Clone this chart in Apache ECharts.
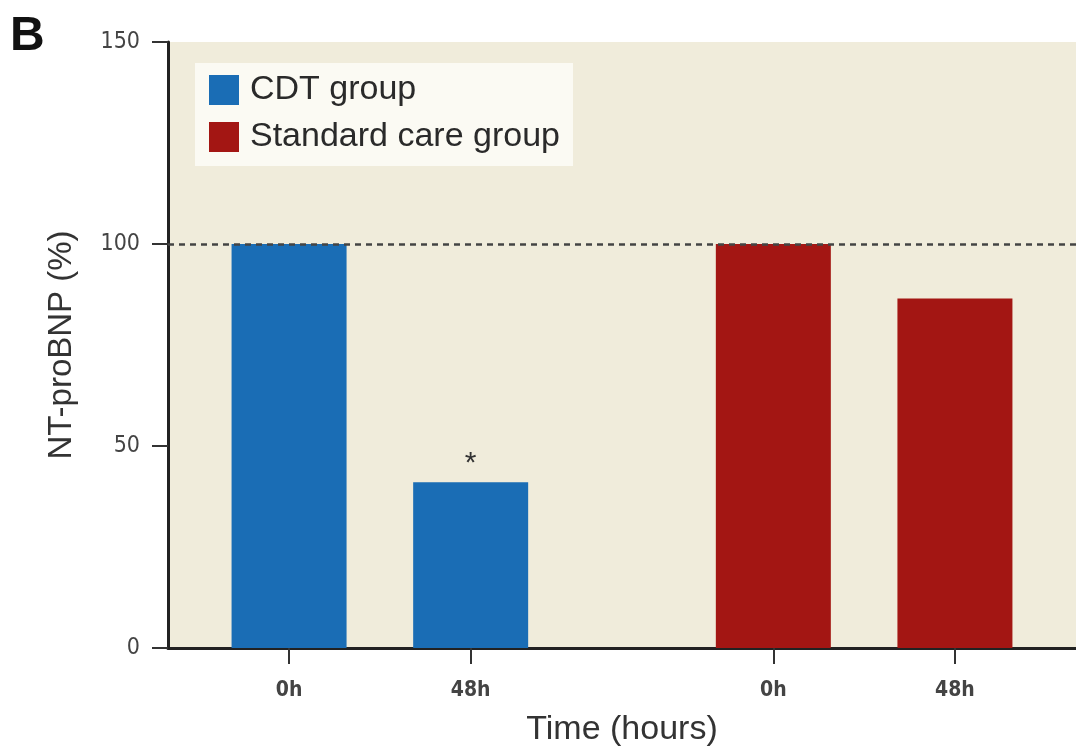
<!DOCTYPE html>
<html>
<head>
<meta charset="utf-8">
<script src="https://cdn.jsdelivr.net/npm/echarts@6/dist/echarts.min.js"></script>
<style>html,body{margin:0;padding:0;background:#fff}#c{width:1076px;height:748px}</style>
</head>
<body>
<div id="c"></div>
<script>
const seriesNames = ['CDT group', 'Standard care group'];
const xPositions = [2, 5, 10, 13];
const tickLabels = ['0h', '48h', '0h', '48h'];
const cdtValues = [100, 41];
const standardValues = [100, 86.5];
const yTicks = [0, 50, 100, 150];
const referenceLine = 100;

const cdtData = cdtValues.map((v, i) => ({
  value: [xPositions[i], v],
  label: i === 1 ? {show: true, position: 'top', formatter: '*', fontSize: 30, color: '#333', distance: 4} : {show: false}
}));
const stdData = standardValues.map((v, i) => [xPositions[i + 2], v]);
const labelMap = {};
xPositions.forEach((p, i) => labelMap[p] = tickLabels[i]);

const narrow = '"Liberation Sans Narrow", "DejaVu Sans Condensed", "Liberation Sans", sans-serif';
const sans = '"Liberation Sans", Arial, sans-serif';
const chart = echarts.init(document.getElementById('c'));
chart.setOption({
  animation: false,
  backgroundColor: '#ffffff',
  title: {
    text: 'B', left: 5, top: 8,
    textStyle: {fontSize: 48, fontWeight: 'bold', color: '#111', fontFamily: sans}
  },
  legend: {
    data: seriesNames,
    orient: 'vertical',
    left: 195, top: 63,
    backgroundColor: '#fbfaf3',
    padding: [10, 13, 12, 14],
    itemWidth: 30, itemHeight: 30, itemGap: 13,
    icon: 'rect',
    textStyle: {fontSize: 34, color: '#2a2a2a', fontFamily: sans, padding: [0, 0, 0, 6]}
  },
  grid: {
    left: 168, right: 0, top: 42, bottom: 100,
    outerBoundsMode: 'none', containLabel: false,
    show: true, backgroundColor: '#f0ecdb', borderWidth: 0
  },
  xAxis: {
    type: 'value', min: 0, max: 15,
    name: 'Time (hours)', nameLocation: 'middle', nameGap: 65,
    nameTextStyle: {fontSize: 34, color: '#333', fontFamily: sans},
    axisLine: {show: true, lineStyle: {color: '#222', width: 3}},
    axisTick: {show: true, customValues: xPositions, length: 16, lineStyle: {color: '#333', width: 2}},
    axisLabel: {customValues: xPositions, formatter: v => labelMap[v] || '', margin: 32,
      fontSize: 21, fontWeight: 'bold', color: '#444', fontFamily: narrow},
    splitLine: {show: false}
  },
  yAxis: {
    type: 'value', min: 0, max: 150, interval: 50,
    name: 'NT-proBNP (%)', nameLocation: 'middle', nameGap: 90,
    nameTextStyle: {fontSize: 33, color: '#333', fontFamily: sans},
    axisLine: {show: true, lineStyle: {color: '#222', width: 3}},
    axisTick: {show: true, length: 16, lineStyle: {color: '#333', width: 2}},
    axisLabel: {margin: 28, fontSize: 23, color: '#444', fontFamily: narrow,
      formatter: v => yTicks.includes(v) ? String(v) : ''},
    splitLine: {show: false}
  },
  series: [
    {
      name: seriesNames[0], type: 'bar', data: cdtData, barWidth: 115, barGap: '-100%',
      itemStyle: {color: '#1a6db5'},
      markLine: {
        silent: true, symbol: 'none', label: {show: false},
        lineStyle: {type: [6, 5], color: '#444', width: 2.5},
        data: [{yAxis: referenceLine}]
      },
      z: 2
    },
    {
      name: seriesNames[1], type: 'bar', data: stdData, barWidth: 115, barGap: '-100%',
      itemStyle: {color: '#a31613'}, z: 2
    }
  ]
});
</script>
</body>
</html>
